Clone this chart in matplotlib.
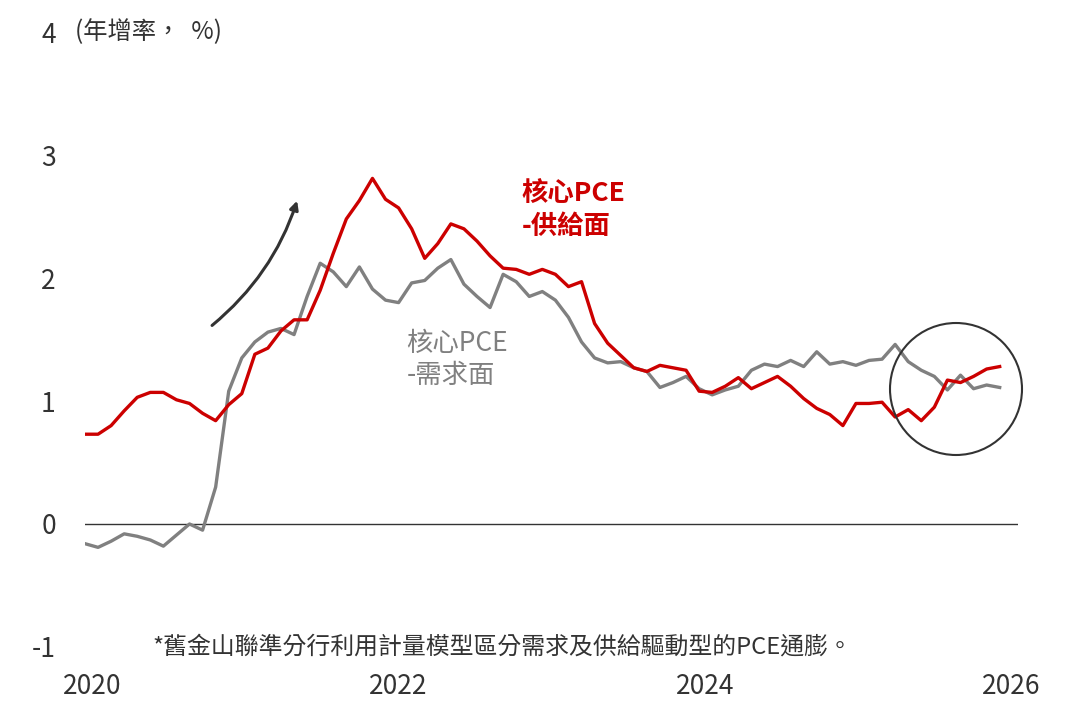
import numpy as np
import matplotlib
matplotlib.use("Agg")
import matplotlib.pyplot as plt
from matplotlib.patches import Circle, FancyArrowPatch

plt.rcParams['font.family'] = ['Noto Sans CJK TC', 'DejaVu Sans']
plt.rcParams['axes.unicode_minus'] = False

# monthly readings, Jan 2020 onward (annual growth, %)
supply = [0.73, 0.73, 0.80, 0.92, 1.03, 1.07, 1.07, 1.01, 0.98, 0.90,
          0.84, 0.97, 1.06, 1.38, 1.43, 1.57, 1.66, 1.66, 1.90, 2.20,
          2.48, 2.63, 2.81, 2.64, 2.57, 2.40, 2.16, 2.28, 2.44, 2.40,
          2.30, 2.18, 2.08, 2.07, 2.03, 2.07, 2.03, 1.93, 1.97, 1.63,
          1.47, 1.37, 1.27, 1.24, 1.29, 1.27, 1.25, 1.08, 1.07, 1.12,
          1.19, 1.10, 1.15, 1.20, 1.12, 1.02, 0.94, 0.89, 0.80, 0.98,
          0.98, 0.99, 0.87, 0.93, 0.84, 0.95, 1.17, 1.15, 1.20, 1.26,
          1.28]
demand = [-0.16, -0.19, -0.14, -0.08, -0.10, -0.13, -0.18, -0.09, 0.00, -0.05,
          0.30, 1.08, 1.35, 1.48, 1.56, 1.59, 1.54, 1.85, 2.12, 2.05,
          1.93, 2.09, 1.91, 1.82, 1.80, 1.96, 1.98, 2.08, 2.15, 1.95,
          1.85, 1.76, 2.03, 1.97, 1.85, 1.89, 1.82, 1.68, 1.48, 1.35,
          1.31, 1.32, 1.27, 1.24, 1.11, 1.15, 1.20, 1.10, 1.05, 1.09,
          1.12, 1.25, 1.30, 1.28, 1.33, 1.28, 1.40, 1.30, 1.32, 1.29,
          1.33, 1.34, 1.46, 1.32, 1.25, 1.20, 1.09, 1.21, 1.10, 1.13,
          1.11]
year_labels = ['2020', '2022', '2024', '2026']
year_pos = [0.54, 23.95, 47.44, 70.9]
y_ticks = [-1, 0, 1, 2, 3, 4]

RED = '#CC0000'
GRAY = '#808080'
DARK = '#333333'

months = np.arange(len(supply))

fig = plt.figure(figsize=(10.77, 7.18), dpi=100)
ax = fig.add_axes([0.0789, 0.0989, 0.8663, 0.8565])

ax.axhline(0, color=DARK, lw=1.0, zorder=1)
ax.plot(months, demand, color=GRAY, lw=2.4, solid_joinstyle='round', zorder=2)
ax.plot(months, supply, color=RED, lw=2.4, solid_joinstyle='round', zorder=3)

ax.set_xlim(0, 71.4)
ax.set_ylim(-1, 4)
ax.set_xticks(year_pos)
ax.set_xticklabels(year_labels)
ax.set_yticks(y_ticks)
ax.tick_params(axis='both', length=0, labelsize=19, colors=DARK)
ax.tick_params(axis='x', pad=19)
ax.tick_params(axis='y', pad=21)
for s in ax.spines.values():
    s.set_visible(False)

# unit label next to the top tick
ax.text(-0.77, 4, '(年增率，  %)', fontsize=17.5, color=DARK, va='center', ha='left', clip_on=False)

# series labels
ax.text(33.4, 2.69, '核心PCE', fontsize=19, color=RED, fontweight='bold', va='center')
ax.text(33.4, 2.42, '-供給面', fontsize=19, color=RED, fontweight='bold', va='center')
ax.text(24.6, 1.47, '核心PCE', fontsize=19, color=GRAY, va='center')
ax.text(24.6, 1.21, '-需求面', fontsize=19, color=GRAY, va='center')

# footnote
ax.text(5.2, -1, '*舊金山聯準分行利用計量模型區分需求及供給驅動型的PCE通膨。',
        fontsize=17.2, color=DARK, va='center', ha='left')

# curved arrow
arrow = FancyArrowPatch((9.56, 1.60), (16.3, 2.65),
                        connectionstyle='arc3,rad=0.15',
                        arrowstyle='-|>,head_length=5,head_width=2.5',
                        color=DARK, lw=2.2, zorder=4)
ax.add_patch(arrow)

# highlight circle around the latest readings
circ = Circle((9.56, 3.29), 0.66, transform=fig.dpi_scale_trans,
              fill=False, edgecolor=DARK, lw=1.5)
fig.add_artist(circ)

fig.savefig('out.png', dpi=100)
